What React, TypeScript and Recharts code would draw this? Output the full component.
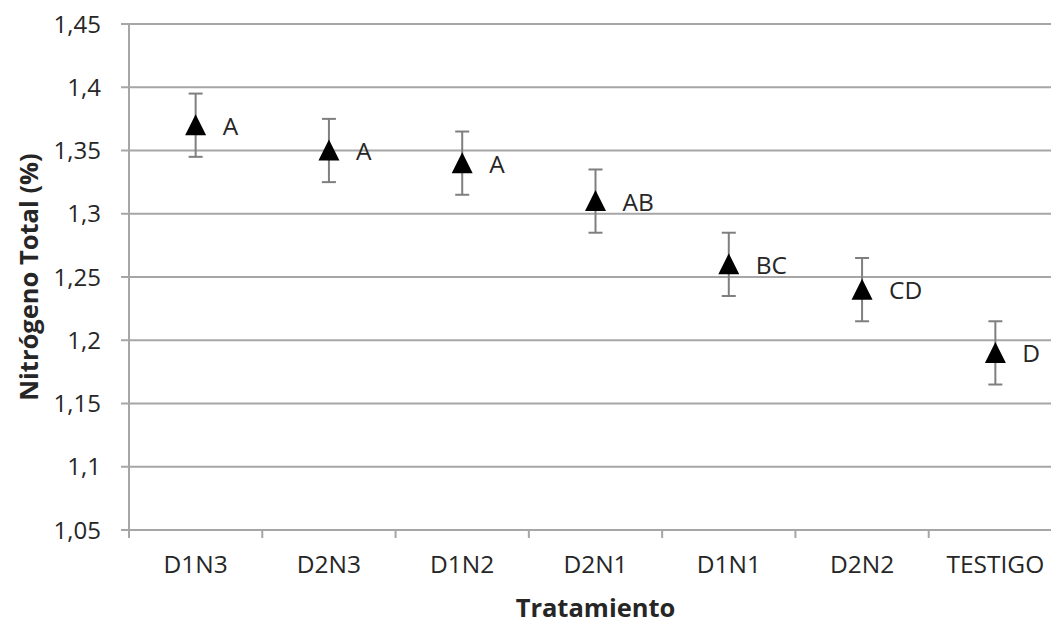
import { ComposedChart, Line, XAxis, YAxis, CartesianGrid, ErrorBar, LabelList } from "recharts";

const tratamientos = ["D1N3", "D2N3", "D1N2", "D2N1", "D1N1", "D2N2", "TESTIGO"];
const nitrogeno = [1.37, 1.35, 1.34, 1.31, 1.26, 1.24, 1.19];
const errores = [0.025, 0.025, 0.025, 0.025, 0.025, 0.025, 0.025];
const grupos = ["A", "A", "A", "AB", "BC", "CD", "D"];
const yTicks = [1.05, 1.1, 1.15, 1.2, 1.25, 1.3, 1.35, 1.4, 1.45];

const data = tratamientos.map((name, i) => ({
	name,
	value: nitrogeno[i],
	err: errores[i],
	grp: grupos[i],
}));

const FONT = "'Open Sans', sans-serif";
const TEXT = "#262626";
const GRID = "#a6a6a6";

const fmt = (v: number) => String(Number(v.toFixed(2))).replace(".", ",");

function Triangle(props: any) {
	const { cx, cy } = props;
	if (cx == null || cy == null) return null;
	return <polygon points={`${cx},${cy - 11} ${cx - 10.5},${cy + 10} ${cx + 10.5},${cy + 10}`} fill="#000" />;
}

function CatTick(props: any) {
	const { x, y, payload, index, visibleTicksCount } = props;
	const off = payload.offset ?? 0;
	const last = index === visibleTicksCount - 1;
	return (
		<g>
			<line x1={x - off} x2={x - off} y1={y - 8} y2={y} stroke={GRID} strokeWidth={2} />
			{last && <line x1={x + off} x2={x + off} y1={y - 8} y2={y} stroke={GRID} strokeWidth={2} />}
			<text x={x} y={y + 35} textAnchor="middle" fill={TEXT} fontSize={24.5} fontFamily={FONT}>
				{payload.value}
			</text>
		</g>
	);
}

export default function App() {
	return (
		<div style={{ position: "absolute", left: 0, top: 0, width: 1051, height: 625, overflow: "hidden", background: "#fff" }}>
			<ComposedChart width={1070} height={625} data={data} margin={{ top: 24, right: 8, left: 0, bottom: 0 }}>
				<CartesianGrid vertical={false} stroke={GRID} strokeWidth={2} />
				<XAxis
					dataKey="name"
					scale="band"
					height={95}
					tickLine={false}
					axisLine={{ stroke: GRID, strokeWidth: 2 }}
					tick={<CatTick />}
					interval={0}
					label={{
						content: ({ viewBox }: any) => (
							<text
								x={viewBox.x + viewBox.width / 2}
								y={607}
								textAnchor="middle"
								dominantBaseline="central"
								fill={TEXT}
								fontSize={25.5}
								fontWeight="bold"
								fontFamily={FONT}
							>
								Tratamiento
							</text>
						),
					}}
				/>
				<YAxis
					width={129}
					domain={[1.05, 1.45]}
					ticks={yTicks}
					interval={0}
					tickFormatter={fmt}
					tickSize={8}
					tickMargin={20}
					tickLine={{ stroke: GRID, strokeWidth: 2 }}
					axisLine={{ stroke: GRID, strokeWidth: 2 }}
					tick={{ fill: TEXT, fontSize: 24, fontFamily: FONT }}
					label={{
						content: ({ viewBox }: any) => {
							const cx = 28;
							const cy = viewBox.y + viewBox.height / 2;
							return (
								<text
									x={cx}
									y={cy}
									transform={`rotate(-90 ${cx} ${cy})`}
									textAnchor="middle"
									dominantBaseline="central"
									fill={TEXT}
									fontSize={25.5}
									fontWeight="bold"
									fontFamily={FONT}
								>
									Nitrógeno Total (%)
								</text>
							);
						},
					}}
				/>
				<Line dataKey="value" stroke="none" dot={<Triangle />} activeDot={false} isAnimationActive={false}>
					<ErrorBar dataKey="err" direction="y" width={7} stroke="#7f7f7f" strokeWidth={2} />
					<LabelList
						dataKey="grp"
						content={(p: any) => (
							<text x={p.x + 27} y={p.y} dominantBaseline="central" fill={TEXT} fontSize={24.5} fontFamily={FONT}>
								{p.value}
							</text>
						)}
					/>
				</Line>
			</ComposedChart>
		</div>
	);
}
